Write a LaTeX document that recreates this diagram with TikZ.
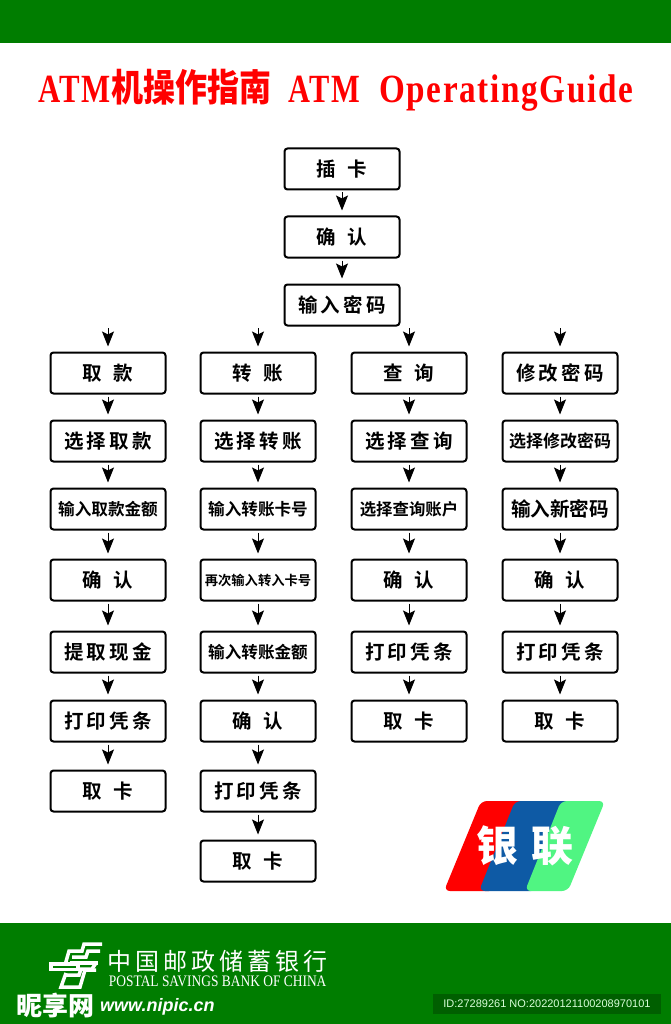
\documentclass[tikz,border=0pt]{standalone}
\usepackage{fontspec}
\setmainfont{Liberation Serif}
\newfontfamily\cjkbold[BoldFont=Noto Sans CJK SC Bold]{Noto Sans CJK SC}
\newfontfamily\cjkblack{Noto Sans CJK SC Black}
\newfontfamily\titlefont[LetterSpace=5]{Liberation Serif Bold}
\newfontfamily\idfont{Liberation Sans}
\usetikzlibrary{arrows.meta}
\definecolor{bandgreen}{RGB}{0,125,0}
\definecolor{idgreen}{RGB}{0,95,0}
\definecolor{upred}{RGB}{255,0,0}
\definecolor{upblue}{RGB}{14,90,165}
\definecolor{upgreen}{RGB}{80,245,130}
\tikzset{
  flowbox/.style={draw=black,line width=2pt,rounded corners=3pt,minimum width=115pt,
    minimum height=41pt,inner sep=0pt,font=\cjkbold\bfseries\fontsize{19.5}{19.5}\selectfont},
  flowarrow/.style={line width=1pt,-{Stealth[length=15pt,width=12pt,inset=3pt]},shorten <=2pt,shorten >=5pt},
  titletext/.style={text=red,inner sep=0pt,anchor=base west,font=\titlefont\fontsize{40}{40}\selectfont},
  logostroke/.style={draw=white,line width=3.5pt,miter limit=10},
}
\begin{document}
\begin{tikzpicture}[x=1pt,y=-1pt]
  \useasboundingbox (0,0) rectangle (671,1024);
  \fill[bandgreen] (0,0) rectangle (671,43);
  \fill[bandgreen] (0,923) rectangle (671,1024);
  % title
  \node[titletext,xscale=.77] (titlea) at (38,103) {ATM};
  \node[titletext,font=\cjkblack\fontsize{32}{32}\selectfont,yscale=1.18] (titleb) at (111,102) {机操作指南};
  \node[titletext,xscale=.76] (titlec) at (288,103) {ATM};
  \node[titletext,xscale=.83] (titled) at (379,103) {OperatingGuide};
  % common steps
  \node[flowbox] (insert) at (342,169) {插\hspace{.6em}卡};
  \node[flowbox] (confirm) at (342,237) {确\hspace{.6em}认};
  \node[flowbox] (pin) at (342,305) {输\,入\,密\,码};
  \draw[flowarrow] (insert) -- (confirm);
  \draw[flowarrow] (confirm) -- (pin);
  % four columns: withdraw, transfer, query, change pin
  \foreach\col/\x/\labels in {
    a/108/{取\hspace{.6em}款,选\,择\,取\,款,{\fontsize{16.6}{16}\selectfont 输入取款金额},确\hspace{.6em}认,提\,取\,现\,金,打\,印\,凭\,条,取\hspace{.6em}卡},
    b/258/{转\hspace{.6em}账,选\,择\,转\,账,{\fontsize{16.6}{16}\selectfont 输入转账卡号},{\fontsize{13.3}{13}\selectfont 再次输入转入卡号},{\fontsize{16.6}{16}\selectfont 输入转账金额},确\hspace{.6em}认,打\,印\,凭\,条,取\hspace{.6em}卡},
    c/409/{查\hspace{.6em}询,选\,择\,查\,询,{\fontsize{16.4}{16}\selectfont 选择查询账户},确\hspace{.6em}认,打\,印\,凭\,条,取\hspace{.6em}卡},
    d/560/{修\,改\,密\,码,{\fontsize{17}{17}\selectfont 选择修改密码},{\fontsize{19.6}{19}\selectfont 输入新密码},确\hspace{.6em}认,打\,印\,凭\,条,取\hspace{.6em}卡}}{
    \coordinate (\col0) at (\x,326);
    \foreach\lab [count=\i,remember=\i as \j (initially 0),
      evaluate=\i as \y using {\i==1?373:(\i==2?441:(\i==3?509:(\i==4?580:(\i==5?652:(\i==6?721:(\i==7?791:861))))))}] in \labels {
      \node[flowbox] (\col\i) at (\x,\y) {\lab};
      \draw[flowarrow] (\col\j) -- (\col\i);
    }
  }
  % unionpay mark
  \fill[upred,rounded corners=6pt] (444,891) -- (481,801) -- (530,801) -- (495,891) -- cycle;
  \fill[upblue,rounded corners=6pt] (479,891) -- (515,801) -- (572,801) -- (537,891) -- cycle;
  \fill[upgreen,rounded corners=6pt] (525,891) -- (561,801) -- (605,801) -- (568,891) -- cycle;
  \node[text=white,font=\cjkblack\fontsize{42}{42}\selectfont] (yin) at (497,846) {银};
  \node[text=white,font=\cjkblack\fontsize{42}{42}\selectfont] (lian) at (552,846) {联};
  % postal logo
  \draw[logostroke] (102,944) -- (84,944) -- (82,951) -- (69,951) -- (65,965);
  \draw[logostroke] (100,951) -- (88,951) -- (86,957) -- (72,957);
  \draw[logostroke] (70,963) -- (98,963);
  \draw[logostroke] (78,969.5) -- (51,969.5) -- (51,964) -- (78,964) -- cycle;
  \draw[logostroke] (96,963) -- (92,969) -- (81,969) -- (79,975) -- (66,975);
  \draw[logostroke] (96,970) -- (85,970) -- (80,987) -- (61,987) -- (66,973);
  % footer
  \node[text=white,font=\cjkbold\fontsize{24}{24}\selectfont,anchor=west] (bankcn) at (104,961) {中\,国\,邮\,政\,储\,蓄\,银\,行};
  \node[text=white,font=\fontsize{16}{16}\selectfont,xscale=.84,anchor=west] (banken) at (106,981) {POSTAL SAVINGS BANK OF CHINA};
  \node[text=white,font=\cjkblack\fontsize{26}{26}\selectfont,anchor=west,inner sep=0pt] (nipic) at (16,1006) {昵享网};
  \node[text=white,font=\idfont\bfseries\itshape\fontsize{18}{18}\selectfont,anchor=west,inner sep=0pt] (nipicurl) at (100,1007) {www.nipic.cn};
  \fill[idgreen] (433,994) rectangle (661,1014);
  \node[text=white!85!green,font=\idfont\fontsize{11}{11}\selectfont] (idtag) at (547,1004) {ID:27289261 NO:20220121100208970101};
\end{tikzpicture}
\end{document}
